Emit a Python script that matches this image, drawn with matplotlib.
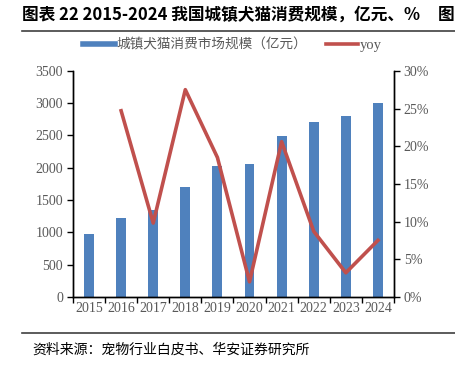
import numpy as np
import matplotlib.pyplot as plt
from matplotlib.lines import Line2D
from matplotlib.ticker import FixedLocator, PercentFormatter

plt.rcParams['font.family'] = ['Noto Sans CJK SC', 'DejaVu Sans']

# 数据
years = ['2015', '2016', '2017', '2018', '2019', '2020', '2021', '2022', '2023', '2024']
market_size = [978, 1220, 1340, 1708, 2024, 2065, 2490, 2706, 2793, 3002]  # 亿元
yoy = [np.nan, 24.7, 9.8, 27.5, 18.5, 2.0, 20.6, 8.7, 3.2, 7.5]  # %

bar_color = '#4F81BD'
line_color = '#C0504D'
tick_color = '#595959'
serif = ['Liberation Serif', 'DejaVu Serif']

fig = plt.figure(figsize=(4.56, 3.67), dpi=100)
ax = fig.add_axes([0.160, 0.191, 0.704, 0.616])
ax2 = ax.twinx()

x = np.arange(len(years))
ax.bar(x, market_size, width=0.31, color=bar_color, zorder=2)
ax2.plot(x, yoy, color=line_color, linewidth=2.6, zorder=3)
ax2.set_zorder(ax.get_zorder() + 1)
ax2.patch.set_visible(False)

# 坐标轴
ax.set_xlim(-0.5, len(years) - 0.5)
ax.set_ylim(0, 3500)
ax.set_yticks(np.arange(0, 3501, 500))
ax2.set_ylim(0, 30)
ax2.set_yticks(np.arange(0, 31, 5))
ax2.yaxis.set_major_formatter(PercentFormatter(decimals=0))

ax.xaxis.set_major_locator(FixedLocator(np.arange(-0.5, len(years), 1)))
ax.xaxis.set_major_formatter(plt.NullFormatter())
ax.xaxis.set_minor_locator(FixedLocator(x))
ax.set_xticklabels(years, minor=True)
ax.tick_params(axis='x', which='major', direction='out', length=4, width=1)
ax.tick_params(axis='x', which='minor', length=0, pad=4)

for a in (ax, ax2):
    a.spines['top'].set_visible(False)
    for s in ('left', 'right', 'bottom'):
        a.spines[s].set_linewidth(1)
        a.spines[s].set_color('black')
    a.tick_params(axis='y', direction='out', length=4, width=1, pad=3)

for lab in ax.get_yticklabels() + ax2.get_yticklabels() + ax.get_xticklabels(minor=True):
    lab.set_family(serif)
    lab.set_fontsize(10)
    lab.set_color(tick_color)

# 图例
handles = [Line2D([0], [0], color=bar_color, linewidth=4),
           Line2D([0], [0], color=line_color, linewidth=2.6)]
leg = fig.legend(handles, ['城镇犬猫消费市场规模（亿元）', 'yoy'], loc='center',
                 bbox_to_anchor=(0.51, 1 - 45 / 367), ncol=2, frameon=False,
                 fontsize=9.8, handlelength=2.3, handletextpad=0.15, columnspacing=1.4)
for t in leg.get_texts():
    t.set_color(tick_color)
leg.get_texts()[1].set_family(serif)
leg.get_texts()[1].set_fontsize(10.5)

# 标题、分隔线、来源
fig.text(22 / 456, 1 - 15 / 367, '图表 22 2015-2024 我国城镇犬猫消费规模，亿元、%',
         fontsize=12, fontweight='bold', va='center', ha='left')
fig.text(438 / 456, 1 - 15 / 367, '图', fontsize=12, fontweight='bold', va='center', ha='left')
fig.add_artist(Line2D([22 / 456, 1], [1 - 31 / 367] * 2, color='#404040', linewidth=1.2))
fig.add_artist(Line2D([22 / 456, 1], [1 - 333 / 367] * 2, color='#404040', linewidth=1.2))
fig.text(32 / 456, 1 - 350 / 367, '资料来源：宠物行业白皮书、华安证券研究所',
         fontsize=10, va='center', ha='left')

fig.savefig('out.png', dpi=100)
